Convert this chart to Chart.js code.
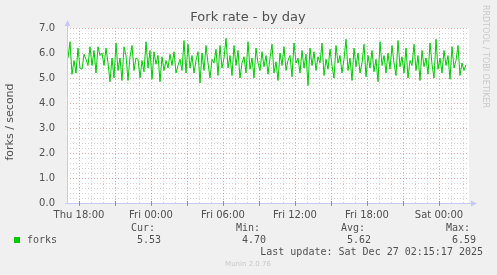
<!DOCTYPE html>
<html>
<head>
<meta charset="utf-8">
<script src="https://cdn.jsdelivr.net/npm/chart.js@4"></script>
<style>
  html, body { margin: 0; padding: 0; background: #f0f0f0; }
  #wrap { width: 497px; height: 275px; position: relative; }
</style>
</head>
<body>
<div id="wrap"><canvas id="forkChart"></canvas></div>
<script>
// hours since Thu 00:00, one sample every 10 minutes up to Sat 02:15
const startHour = 17 + 5 / 60;
const stepHours = 10 / 60;
const days = ['Thu', 'Fri', 'Sat'];

const forks = [
    5.8, 6.45, 5.15, 5.7, 5.2, 6.2, 5.4, 5.35, 5.95, 5.75, 5.5, 6.25, 5.5, 6.1, 5.2, 6.25, 5.9, 6.0, 5.5, 6.2,
    5.6, 4.85, 5.8, 5.0, 6.4, 5.3, 5.8, 4.9, 6.25, 5.9, 4.9, 5.85, 6.3, 5.3, 5.8, 5.75, 5.0, 5.7, 5.25, 6.45,
    5.4, 6.1, 4.95, 6.05, 5.55, 5.9, 4.85, 5.85, 5.3, 5.7, 5.4, 5.95, 5.5, 6.05, 5.2, 5.5, 5.75, 5.3, 6.5, 5.2,
    6.35, 5.4, 5.9, 5.2, 5.7, 6.05, 4.8, 6.0, 5.3, 6.3, 5.6, 5.0, 5.75, 5.6, 6.15, 5.1, 6.3, 5.4, 5.8, 6.59,
    5.4, 5.9, 5.1, 6.3, 5.5, 6.1, 5.0, 5.6, 5.85, 5.2, 6.45, 5.35, 5.8, 5.0, 6.2, 5.6, 5.3, 6.05, 5.45, 5.9,
    5.15, 5.8, 6.35, 5.2, 5.65, 4.9, 6.0, 5.5, 6.25, 5.3, 5.7, 5.9, 5.05, 6.4, 5.6, 5.8, 5.2, 6.1, 5.4, 5.95,
    4.7, 6.2, 5.5, 6.05, 5.3, 5.85, 5.6, 6.4, 5.1, 5.75, 5.35, 6.15, 5.5, 5.0, 6.3, 5.6, 5.9, 5.2, 5.75, 6.55,
    5.3, 5.8, 4.9, 6.2, 5.45, 6.0, 5.2, 5.6, 6.35, 5.05, 5.9, 5.4, 6.1, 5.25, 5.75, 4.85, 6.45, 5.5, 5.9, 5.2,
    6.0, 5.35, 6.3, 5.6, 5.1, 6.5, 5.45, 5.85, 5.2, 6.2, 5.0, 5.7, 5.5, 6.35, 5.3, 5.9, 4.9, 6.1, 5.45, 5.8,
    5.15, 6.4, 5.55, 5.0, 6.55, 5.35, 5.8, 5.2, 6.1, 5.5, 5.9, 4.95, 6.25, 5.4, 5.7, 6.3, 5.1, 5.6, 5.3, 5.53
];

const statNames = ['Cur:', 'Min:', 'Avg:', 'Max:'];
const statValues = ['5.53', '4.70', '5.62', '6.59'];

const points = forks.map((v, i) => ({ x: startHour + i * stepHours, y: v }));

const isWhole = v => Math.abs(v - Math.round(v)) < 1e-6;

const munin = {
    id: 'munin',
    beforeDraw(chart) {
        const c = chart.ctx, a = chart.chartArea;
        c.save();
        c.fillStyle = '#f0f0f0';
        c.fillRect(0, 0, chart.width, chart.height);
        c.fillStyle = '#ffffff';
        c.fillRect(a.left, a.top, a.right - a.left, a.bottom - a.top);
        c.restore();
    },
    beforeDatasetsDraw(chart) {
        // dotted rrdtool style grid
        const c = chart.ctx, a = chart.chartArea;
        const xs = chart.scales.x, ys = chart.scales.y;
        c.save();
        c.lineWidth = 1;
        c.setLineDash([1, 2]);
        const minor = [], major = [];
        for (let h = Math.ceil(xs.min); h <= xs.max; h++) {
            (h % 3 === 0 ? major : minor).push(['v', Math.round(xs.getPixelForValue(h)) + 0.5]);
        }
        for (let k = 1; k <= 35; k++) {
            (k % 5 === 0 ? major : minor).push(['h', Math.round(ys.getPixelForValue(k / 5)) + 0.5]);
        }
        [[minor, '#d4d4d4'], [major, '#eca8a8']].forEach(([list, col]) => {
            c.strokeStyle = col;
            c.beginPath();
            list.forEach(([d, p]) => {
                if (d === 'v') { c.moveTo(p, a.top); c.lineTo(p, a.bottom); }
                else { c.moveTo(a.left, p); c.lineTo(a.right, p); }
            });
            c.stroke();
        });
        c.restore();
    },
    afterDraw(chart) {
        const c = chart.ctx, a = chart.chartArea;
        const xs = chart.scales.x;
        c.save();
        // axes with arrows
        c.strokeStyle = '#c8c8ff';
        c.fillStyle = '#c8c8ff';
        c.lineWidth = 1;
        c.beginPath();
        c.moveTo(a.left + 0.5, a.bottom);
        c.lineTo(a.left + 0.5, a.top - 4);
        c.moveTo(a.left - 2, a.bottom + 0.5);
        c.lineTo(a.right + 3, a.bottom + 0.5);
        c.stroke();
        c.beginPath();
        c.moveTo(a.left - 2.5, a.top - 2);
        c.lineTo(a.left + 3.5, a.top - 2);
        c.lineTo(a.left + 0.5, a.top - 8);
        c.fill();
        c.beginPath();
        c.moveTo(a.right + 2, a.bottom - 2.5);
        c.lineTo(a.right + 2, a.bottom + 3.5);
        c.lineTo(a.right + 8, a.bottom + 0.5);
        c.fill();
        // red tick marks on the time axis
        c.strokeStyle = '#e07070';
        c.beginPath();
        for (let h = Math.ceil(xs.min); h <= xs.max; h++) {
            if (h % 3 !== 0) continue;
            const p = Math.round(xs.getPixelForValue(h)) + 0.5;
            c.moveTo(p, a.bottom - 2);
            c.lineTo(p, a.bottom + 3);
        }
        c.stroke();

        // title and axis label
        c.fillStyle = '#505050';
        c.font = '13px "DejaVu Sans"';
        c.textAlign = 'center';
        c.textBaseline = 'middle';
        c.fillText('Fork rate - by day', 248, 18);
        c.save();
        c.translate(10, 122);
        c.rotate(-Math.PI / 2);
        c.font = '11px "DejaVu Sans"';
        c.fillText('forks / second', 0, 0);
        c.restore();

        c.save();
        c.translate(485, 5);
        c.rotate(Math.PI / 2);
        c.fillStyle = '#c8c8c8';
        c.font = '8px "DejaVu Sans"';
        c.textAlign = 'left';
        c.fillText('RRDTOOL / TOBI OETIKER', 0, 0);
        c.restore();

        // legend
        c.font = '10px "DejaVu Sans Mono"';
        c.fillStyle = '#00cc00';
        c.fillRect(14, 237, 6, 6);
        c.fillStyle = '#505050';
        c.textAlign = 'left';
        c.fillText('forks', 27, 240);
        c.textAlign = 'right';
        statNames.forEach((n, i) => {
            c.fillText(n, 155 + i * 105, 228);
            c.fillText(statValues[i], 161 + i * 105, 240);
        });
        c.fillText('Last update: Sat Dec 27 02:15:17 2025', 483, 252);
        c.fillStyle = '#c8c8c8';
        c.font = '7px "DejaVu Sans"';
        c.textAlign = 'center';
        c.fillText('Munin 2.0.76', 248, 264);
        c.restore();
    }
};

const forkConfig = {
    type: 'line',
    data: {
        datasets: [{
            label: 'forks',
            data: points,
            borderColor: '#00cc00',
            borderWidth: 1,
            pointRadius: 0,
            tension: 0,
        }]
    },
    options: {
        responsive: true,
        maintainAspectRatio: false,
        animation: false,
        layout: { padding: { top: 28, right: 28, left: 0, bottom: 0 } },
        scales: {
            x: {
                type: 'linear',
                min: 17,
                max: 50.5,
                afterFit: s => { s.height = 72; },
                border: { display: false },
                grid: { display: false },
                ticks: {
                    stepSize: 1,
                    autoSkip: false,
                    maxRotation: 0,
                    padding: -2,
                    color: '#505050',
                    font: { family: 'DejaVu Sans', size: 10 },
                    callback: v => {
                        if (!isWhole(v) || Math.round(v) % 6 !== 0) return '';
                        const h = Math.round(v);
                        return days[Math.floor(h / 24)] + ' ' + String(h % 24).padStart(2, '0') + ':00';
                    }
                }
            },
            y: {
                min: 0,
                max: 7,
                afterFit: s => { s.width = 67; },
                border: { display: false },
                grid: { display: false },
                ticks: {
                    stepSize: 1,
                    padding: 4,
                    color: '#505050',
                    font: { family: 'DejaVu Sans', size: 10 },
                    callback: v => v.toFixed(1)
                }
            }
        },
        plugins: {
            legend: { display: false },
            title: { display: false },
            tooltip: { enabled: false }
        }
    },
    plugins: [munin]
};

const forkCtx = document.getElementById('forkChart').getContext('2d');
new Chart(forkCtx, forkConfig);
</script>
</body>
</html>
